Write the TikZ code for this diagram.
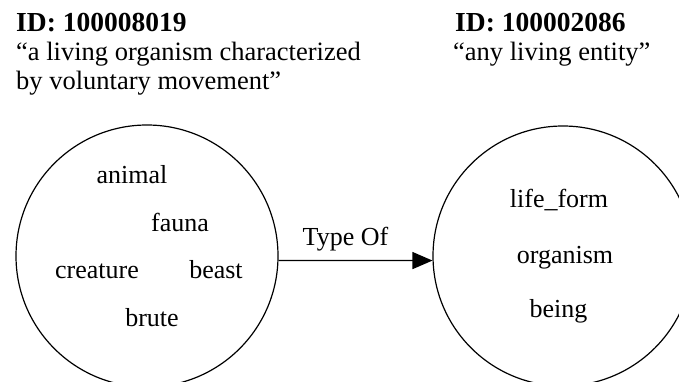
\documentclass[tikz,border=0pt]{standalone}
\usepackage{fontspec}
\setmainfont{Liberation Serif}
\usetikzlibrary{arrows.meta}
\begin{document}
\begin{tikzpicture}[x=1pt,y=-1pt,
  synset/.style={draw, circle, line width=1.2pt, minimum size=#1, inner sep=0pt},
  word/.style={anchor=base, inner sep=0pt, font=\fontsize{26}{30}\selectfont},
  idline/.style={anchor=base west, inner sep=0pt, font=\fontsize{27.5}{32}\selectfont\bfseries},
  gloss/.style={anchor=base west, inner sep=0pt, font=\fontsize{26.5}{31}\selectfont},
  rel/.style={line width=1.2pt, -{Triangle[length=20pt,width=17pt]}}]
\useasboundingbox (0,0) rectangle (679,382);
\clip (0,0) rectangle (679,382);

% headers
\node[idline] (id1) at (16,32) {ID: 100008019};
\node[gloss] (g1a) at (16,61) {“a living organism characterized};
\node[gloss] (g1b) at (16,90) {by voluntary movement”};
\node[idline] (id2) at (455,32) {ID: 100002086};
\node[gloss] (g2) at (453,61) {“any living entity”};

% synsets
\node[synset=262pt] (c1) at (147,256) {};
\node[synset=260pt] (c2) at (563,256) {};

% member words
\node[word] (w1) at (132,183) {animal};
\node[word] (w2) at (180,231) {fauna};
\node[word] (w3) at (97,278) {creature};
\node[word] (w4) at (216,278) {beast};
\node[word] (w5) at (152,326) {brute};

\node[word] (v1) at (559,207) {life\_form};
\node[word] (v2) at (565,263) {organism};
\node[word] (v3) at (558.5,317) {being};

% relation
\draw[rel] (c1.-2.6) -- (c2.182.6);
\node[word] (lab) at (345.5,245) {Type Of};
\end{tikzpicture}
\end{document}
